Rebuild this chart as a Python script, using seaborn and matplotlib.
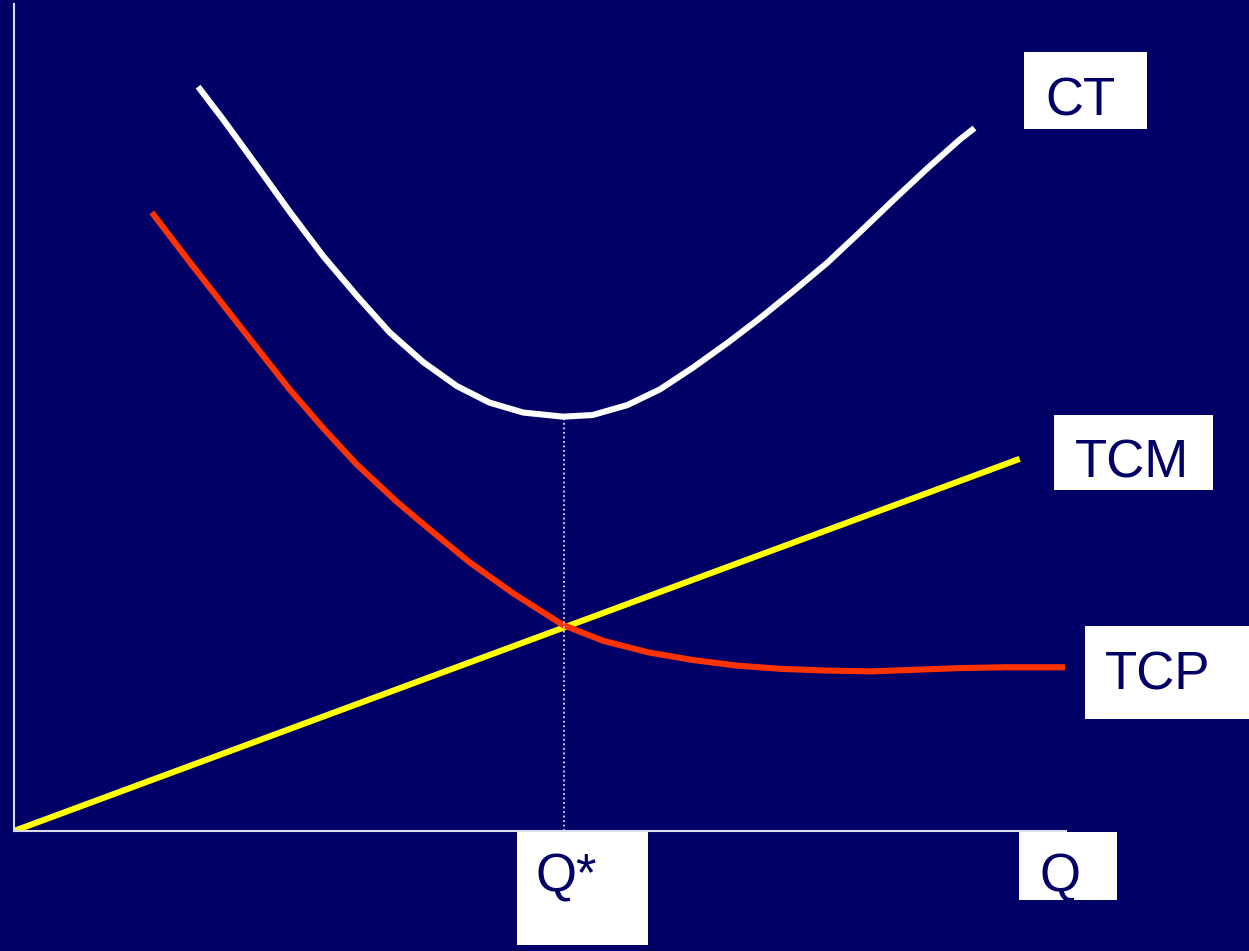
import pandas as pd
import matplotlib
matplotlib.use("Agg")
import matplotlib.pyplot as plt
import seaborn as sns
from matplotlib.patches import Rectangle

# values (Q = quantity, cost in arbitrary units 0-100)
ct_q = [17.5, 19.9, 23.1, 26.2, 29.4, 32.6, 35.7, 38.9, 42.1, 45.2, 48.4, 52.2,
        55.0, 58.3, 61.4, 64.5, 67.8, 70.9, 74.0, 77.3, 80.4, 83.6, 86.8, 89.9, 91.3]
ct_cost = [90.0, 86.0, 80.4, 74.9, 69.5, 64.7, 60.3, 56.7, 53.8, 51.8, 50.6, 50.1,
           50.3, 51.5, 53.4, 56.0, 59.0, 62.0, 65.2, 68.7, 72.4, 76.3, 80.1, 83.6, 85.0]

tcp_q = [13.1, 16.7, 19.9, 23.1, 26.2, 29.4, 32.6, 36.4, 39.1, 43.3, 47.5, 52.2,
         56.0, 60.3, 64.4, 68.7, 73.0, 77.2, 81.5, 85.7, 89.9, 94.2, 99.9]
tcp_cost = [74.8, 68.8, 63.6, 58.4, 53.4, 48.7, 44.3, 39.8, 36.9, 32.5, 28.7, 24.9,
            23.0, 21.6, 20.7, 20.0, 19.6, 19.4, 19.3, 19.5, 19.7, 19.8, 19.8]

tcm_q = [0.0, 95.6]
tcm_cost = [0.0, 45.0]

q_star = 52.3
ct_min = 50.1

NAVY = "#000066"
W, H = 1249, 951

sns.set_style("white", {"axes.facecolor": NAVY, "figure.facecolor": NAVY})
plt.rcParams['font.family'] = ['Liberation Sans', 'DejaVu Sans']

fig = plt.figure(figsize=(W / 100, H / 100), dpi=100)
fig.patch.set_facecolor(NAVY)
ax = fig.add_axes([14 / W, (H - 831) / H, 1052 / W, 827 / H])
ax.set_facecolor(NAVY)

df_ct = pd.DataFrame({'Q': ct_q, 'cost': ct_cost})
df_tcp = pd.DataFrame({'Q': tcp_q, 'cost': tcp_cost})
df_tcm = pd.DataFrame({'Q': tcm_q, 'cost': tcm_cost})

line_kw = dict(linewidth=4.4, sort=False, estimator=None,
               solid_capstyle='butt', solid_joinstyle='round')
sns.lineplot(data=df_tcm, x='Q', y='cost', ax=ax, color='#FFFF00', **line_kw)
sns.lineplot(data=df_tcp, x='Q', y='cost', ax=ax, color='#FF3300', **line_kw)
sns.lineplot(data=df_ct, x='Q', y='cost', ax=ax, color='white', **line_kw)
ax.plot([q_star, q_star], [0, ct_min], color='#dcdcf0', linestyle=(0, (1, 1.5)), linewidth=1.3)

ax.set_xlim(0, 100)
ax.set_ylim(0, 100)
ax.set_xticks([])
ax.set_yticks([])
ax.set_xlabel('')
ax.set_ylabel('')
for side in ['top', 'right']:
    ax.spines[side].set_visible(False)
for side in ['left', 'bottom']:
    ax.spines[side].set_color('#dcdcf0')
    ax.spines[side].set_linewidth(1.5)


def px_box(x0, y0, x1, y1):
    # white label box, given in pixels from the top-left corner
    fig.patches.append(Rectangle((x0 / W, 1 - y1 / H), (x1 - x0) / W, (y1 - y0) / H,
                                 transform=fig.transFigure, facecolor='white',
                                 edgecolor='none', zorder=5))


def px_text(x, y, s, ha='center'):
    fig.text(x / W, 1 - y / H, s, ha=ha, va='baseline', fontsize=38,
             color=NAVY, zorder=6)


labels = ['CT', 'TCM', 'TCP', 'Q*', 'Q']
boxes = [(1024, 52, 1147, 129), (1054, 415, 1213, 490), (1085, 626, 1249, 719),
         (517, 832, 648, 945), (1019, 832, 1117, 900)]
anchors = [(1081, 116, 'center'), (1132, 477, 'center'), (1158, 690, 'center'),
           (536, 892, 'left'), (1060, 892, 'center')]

for lab, b, a in zip(labels, boxes, anchors):
    px_box(*b)
    px_text(a[0], a[1], lab, ha=a[2])

fig.savefig('out.png', dpi=100, facecolor=NAVY)
